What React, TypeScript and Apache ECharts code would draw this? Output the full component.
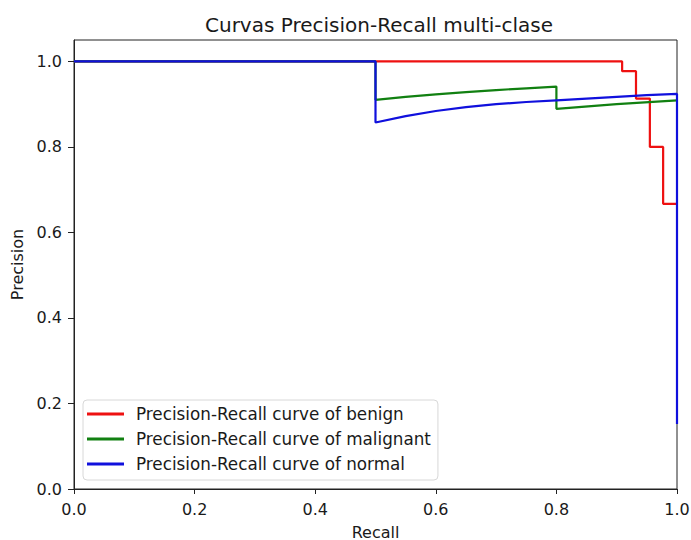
import React, { useEffect, useRef } from "react";
import * as echarts from "echarts";

const xTicks = [0, 0.2, 0.4, 0.6, 0.8, 1.0];
const yTicks = [0, 0.2, 0.4, 0.6, 0.8, 1.0];

const benignRecall = [0, 0.909, 0.909, 0.932, 0.932, 0.955, 0.955, 0.977, 0.977, 1.0];
const benignPrecision = [1, 1, 0.977, 0.977, 0.913, 0.913, 0.8, 0.8, 0.667, 0.667];

const malignantRecall = [0, 0.5, 0.5, 0.55, 0.6, 0.65, 0.7, 0.75, 0.8, 0.8, 0.9, 1.0];
const malignantPrecision = [1, 1, 0.91, 0.917, 0.923, 0.928, 0.933, 0.937, 0.941, 0.889, 0.9, 0.909];

const normalRecall = [0, 0.5, 0.5, 0.55, 0.6, 0.65, 0.7, 0.75, 0.8, 0.85, 0.9, 0.95, 1.0, 1.0];
const normalPrecision = [1, 1, 0.857, 0.872, 0.884, 0.893, 0.9, 0.905, 0.909, 0.913, 0.917, 0.921, 0.924, 0.152];

const seriesNames = [
  "Precision-Recall curve of benign",
  "Precision-Recall curve of malignant",
  "Precision-Recall curve of normal",
];
const seriesColors = ["#ee1111", "#118011", "#1010dd"];

const pairs = (xs: number[], ys: number[]) => xs.map((x, i) => [x, ys[i]]);

export default function App() {
  const ref = useRef<HTMLDivElement>(null);
  useEffect(() => {
    if (!ref.current) return;
    const chart = echarts.init(ref.current, null, { renderer: "svg" });
    const font = "DejaVu Sans";
    const textColor = "#1a1a1a";
    const data = [
      pairs(benignRecall, benignPrecision),
      pairs(malignantRecall, malignantPrecision),
      pairs(normalRecall, normalPrecision),
    ];
    chart.setOption({
      animation: false,
      backgroundColor: "#ffffff",
      title: {
        text: "Curvas Precision-Recall multi-clase",
        left: 200,
        top: 10,
        textStyle: { fontFamily: font, fontSize: 20, fontWeight: "normal", color: textColor },
      },
      grid: {
        left: 74,
        right: 14,
        top: 40,
        bottom: 51,
        outerBoundsMode: "none",
        containLabel: false,
        show: true,
        borderColor: "#222",
        borderWidth: 1,
        backgroundColor: "transparent",
      },
      legend: {
        orient: "vertical",
        left: 83,
        top: 400,
        itemWidth: 37,
        itemHeight: 3,
        itemGap: 7,
        icon: "rect",
        padding: [5, 7, 7, 4],
        backgroundColor: "#ffffff",
        borderColor: "#d8d8d8",
        borderWidth: 1,
        borderRadius: 4,
        textStyle: {
          fontFamily: font,
          fontSize: 16.8,
          lineHeight: 18,
          color: textColor,
          padding: [0, 0, 0, 7],
        },
        data: seriesNames,
      },
      xAxis: {
        type: "value",
        min: 0,
        max: 1,
        interval: 0.2,
        name: "Recall",
        nameLocation: "middle",
        nameGap: 35,
        nameTextStyle: { fontFamily: font, fontSize: 16, color: textColor },
        axisLine: { show: true, lineStyle: { color: "#222", width: 1 } },
        axisTick: { show: true, length: 5, lineStyle: { color: "#222" }, customValues: xTicks },
        axisLabel: {
          fontFamily: font,
          fontSize: 16,
          color: textColor,
          margin: 12,
          customValues: xTicks,
          formatter: (v: number) => v.toFixed(1),
        },
        splitLine: { show: false },
      },
      yAxis: {
        type: "value",
        min: 0,
        max: 1.05,
        name: "Precision",
        nameLocation: "middle",
        nameGap: 47,
        nameTextStyle: { fontFamily: font, fontSize: 16, color: textColor },
        axisLine: { show: true, lineStyle: { color: "#222", width: 1 } },
        axisTick: { show: true, length: 6, lineStyle: { color: "#222" }, customValues: yTicks },
        axisLabel: {
          fontFamily: font,
          fontSize: 16,
          color: textColor,
          margin: 12,
          customValues: yTicks,
          formatter: (v: number) => v.toFixed(1),
        },
        splitLine: { show: false },
      },
      series: seriesNames.map((name, i) => ({
        name,
        type: "line",
        data: data[i],
        showSymbol: false,
        symbol: "none",
        color: seriesColors[i],
        lineStyle: { width: 2.2, color: seriesColors[i] },
        z: 2 + i,
      })),
    });
    return () => chart.dispose();
  }, []);
  return (
    <div
      ref={ref}
      style={{ position: "fixed", left: 0, top: 0, width: 691, height: 540 }}
    />
  );
}
